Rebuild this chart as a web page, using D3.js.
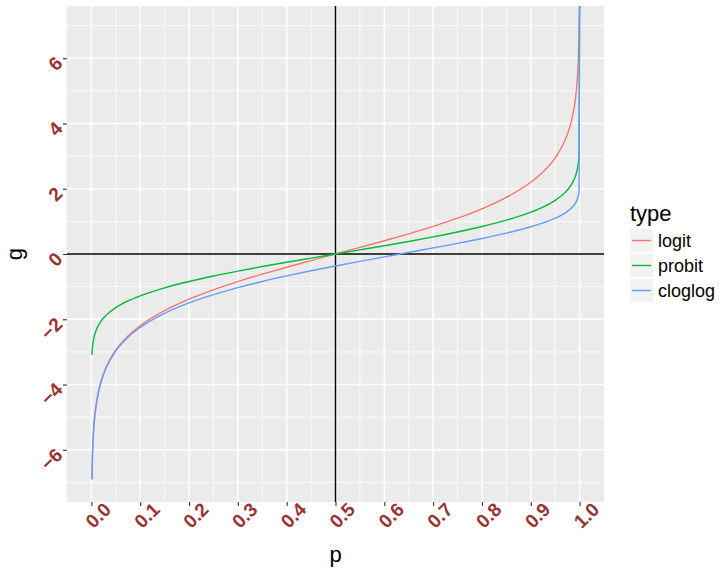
<!DOCTYPE html>
<html>
<head>
<meta charset="utf-8">
<script src="https://cdn.jsdelivr.net/npm/d3@7"></script>
<style>
  body { margin: 0; background: #fff; }
  svg { font-family: "Liberation Sans", Arial, sans-serif; }
</style>
</head>
<body>
<div class="chartBoard"></div>
<script>
// values (p = 1 goes off to +Inf, drawn at the panel edge)
const pValues = [0.001, 0.002, 0.003, 0.005, 0.007, 0.01, 0.015, 0.02, 0.03, 0.05, 0.075, 0.1, 0.15,
    0.2, 0.25, 0.3, 0.35, 0.4, 0.45, 0.5, 0.55, 0.6, 0.65, 0.7, 0.75, 0.8, 0.85, 0.9, 0.925,
    0.95, 0.97, 0.98, 0.985, 0.99, 0.993, 0.995, 0.997, 0.998, 0.999, 1];

const logitValues = [-6.907, -6.213, -5.806, -5.293, -4.955, -4.595, -4.185, -3.892, -3.476, -2.944, -2.512, -2.197, -1.735,
    -1.386, -1.099, -0.847, -0.619, -0.405, -0.201, 0, 0.201, 0.405, 0.619, 0.847, 1.099, 1.386, 1.735, 2.197, 2.512,
    2.944, 3.476, 3.892, 4.185, 4.595, 4.955, 5.293, 5.806, 6.213, 6.907, Infinity];

const probitValues = [-3.090, -2.878, -2.748, -2.576, -2.457, -2.326, -2.170, -2.054, -1.881, -1.645, -1.440, -1.282, -1.036,
    -0.842, -0.674, -0.524, -0.385, -0.253, -0.126, 0, 0.126, 0.253, 0.385, 0.524, 0.674, 0.842, 1.036, 1.282, 1.440,
    1.645, 1.881, 2.054, 2.170, 2.326, 2.457, 2.576, 2.748, 2.878, 3.090, Infinity];

const cloglogValues = [-6.907, -6.214, -5.808, -5.296, -4.958, -4.600, -4.192, -3.902, -3.491, -2.970, -2.552, -2.250, -1.817,
    -1.500, -1.246, -1.031, -0.842, -0.672, -0.514, -0.367, -0.225, -0.087, 0.049, 0.186, 0.327, 0.476, 0.640, 0.834, 0.952,
    1.097, 1.255, 1.364, 1.435, 1.527, 1.602, 1.667, 1.759, 1.827, 1.933, Infinity];

const types = ["logit", "probit", "cloglog"];
const colors = ["#F8766D", "#00BA38", "#619CFF"];

const xTicks = [0, 0.1, 0.2, 0.3, 0.4, 0.5, 0.6, 0.7, 0.8, 0.9, 1.0];
const yTicks = [-6, -4, -2, 0, 2, 4, 6];

const w = 721, h = 570;
const panel = { left: 67, right: 604, top: 6, bottom: 502 };

const svg = d3.select(".chartBoard")
    .append("svg")
    .attr("width", w)
    .attr("height", h);

const xScale = d3.scaleLinear()
    .domain([-0.05, 1.05])
    .range([panel.left, panel.right]);

const yScale = d3.scaleLinear()
    .domain([-7.6, 7.6])
    .range([panel.bottom, panel.top]);

// panel background
svg.append("rect")
    .attr("x", panel.left)
    .attr("y", panel.top)
    .attr("width", panel.right - panel.left)
    .attr("height", panel.bottom - panel.top)
    .attr("fill", "#EBEBEB");

// minor grid
const xMinor = d3.range(0.05, 1.0, 0.1);
const yMinor = [-7, -5, -3, -1, 1, 3, 5, 7];
svg.append("g").selectAll("line")
    .data(xMinor).enter().append("line")
    .attr("x1", d => xScale(d)).attr("x2", d => xScale(d))
    .attr("y1", panel.top).attr("y2", panel.bottom)
    .attr("stroke", "#fff").attr("stroke-width", 0.8);
svg.append("g").selectAll("line")
    .data(yMinor).enter().append("line")
    .attr("y1", d => yScale(d)).attr("y2", d => yScale(d))
    .attr("x1", panel.left).attr("x2", panel.right)
    .attr("stroke", "#fff").attr("stroke-width", 0.8);

// major grid
svg.append("g").selectAll("line")
    .data(xTicks).enter().append("line")
    .attr("x1", d => xScale(d)).attr("x2", d => xScale(d))
    .attr("y1", panel.top).attr("y2", panel.bottom)
    .attr("stroke", "#fff").attr("stroke-width", 1.6);
svg.append("g").selectAll("line")
    .data(yTicks).enter().append("line")
    .attr("y1", d => yScale(d)).attr("y2", d => yScale(d))
    .attr("x1", panel.left).attr("x2", panel.right)
    .attr("stroke", "#fff").attr("stroke-width", 1.6);

// reference lines
svg.append("line")
    .attr("x1", panel.left).attr("x2", panel.right)
    .attr("y1", yScale(0)).attr("y2", yScale(0))
    .attr("stroke", "#000").attr("stroke-width", 1.4);
svg.append("line")
    .attr("x1", xScale(0.5)).attr("x2", xScale(0.5))
    .attr("y1", panel.top).attr("y2", panel.bottom)
    .attr("stroke", "#000").attr("stroke-width", 1.4);

// curves - infinite values squished to the panel edge like ggplot does
const series = [logitValues, probitValues, cloglogValues];
const line = d3.line()
    .x(d => xScale(d[0]))
    .y(d => d[1] === Infinity ? panel.top : yScale(d[1]))
    .curve(d3.curveMonotoneX);

series.forEach((vals, i) => {
    svg.append("path")
        .datum(pValues.map((p, j) => [p, vals[j]]))
        .attr("d", line)
        .attr("fill", "none")
        .attr("stroke", colors[i])
        .attr("stroke-width", 1.4);
});

// axes
const xAxis = svg.append("g")
    .attr("transform", "translate(0," + panel.bottom + ")")
    .call(d3.axisBottom(xScale).tickValues(xTicks).tickSize(4).tickFormat(d3.format(".1f")));
const yAxis = svg.append("g")
    .attr("transform", "translate(" + panel.left + ",0)")
    .call(d3.axisLeft(yScale).tickValues(yTicks).tickSize(4).tickFormat(d3.format("d")));

[xAxis, yAxis].forEach(ax => {
    ax.attr("font-size", null).attr("font-family", null);
    ax.select(".domain").remove();
    ax.selectAll(".tick line").attr("stroke", "#333").attr("stroke-width", 1.1);
    ax.selectAll(".tick text")
        .attr("fill", "#993333")
        .attr("font-size", 19)
        .attr("font-weight", "bold")
        .attr("font-family", "Liberation Sans, Arial, sans-serif");
});

// rotated tick labels
xAxis.selectAll(".tick text")
    .attr("x", -5).attr("y", 20.5).attr("dy", 0)
    .attr("text-anchor", "middle")
    .attr("transform", "rotate(-45)");

yAxis.selectAll(".tick text")
    .attr("x", -6.4).attr("y", 1.9).attr("dy", 0)
    .attr("text-anchor", "end")
    .attr("transform", "rotate(-45)");

// axis titles
svg.append("text")
    .attr("x", (panel.left + panel.right) / 2)
    .attr("y", 562)
    .attr("text-anchor", "middle")
    .style("font-size", "22px")
    .text("p");

svg.append("text")
    .attr("transform", "translate(22," + yScale(0) + ") rotate(-90)")
    .attr("text-anchor", "middle")
    .style("font-size", "22px")
    .text("g");

// legend
const legend = svg.append("g").attr("transform", "translate(630,0)");
legend.append("text")
    .attr("x", 0).attr("y", 221)
    .style("font-size", "22px")
    .text("type");

types.forEach((t, i) => {
    const y0 = 229 + i * 25;
    legend.append("rect")
        .attr("x", 0).attr("y", y0)
        .attr("width", 23).attr("height", 23)
        .attr("fill", "#F2F2F2");
    legend.append("line")
        .attr("x1", 2).attr("x2", 21)
        .attr("y1", y0 + 11.5).attr("y2", y0 + 11.5)
        .attr("stroke", colors[i]).attr("stroke-width", 1.4);
    legend.append("text")
        .attr("x", 28).attr("y", y0 + 18)
        .style("font-size", "18px")
        .text(t);
});
</script>
</body>
</html>
